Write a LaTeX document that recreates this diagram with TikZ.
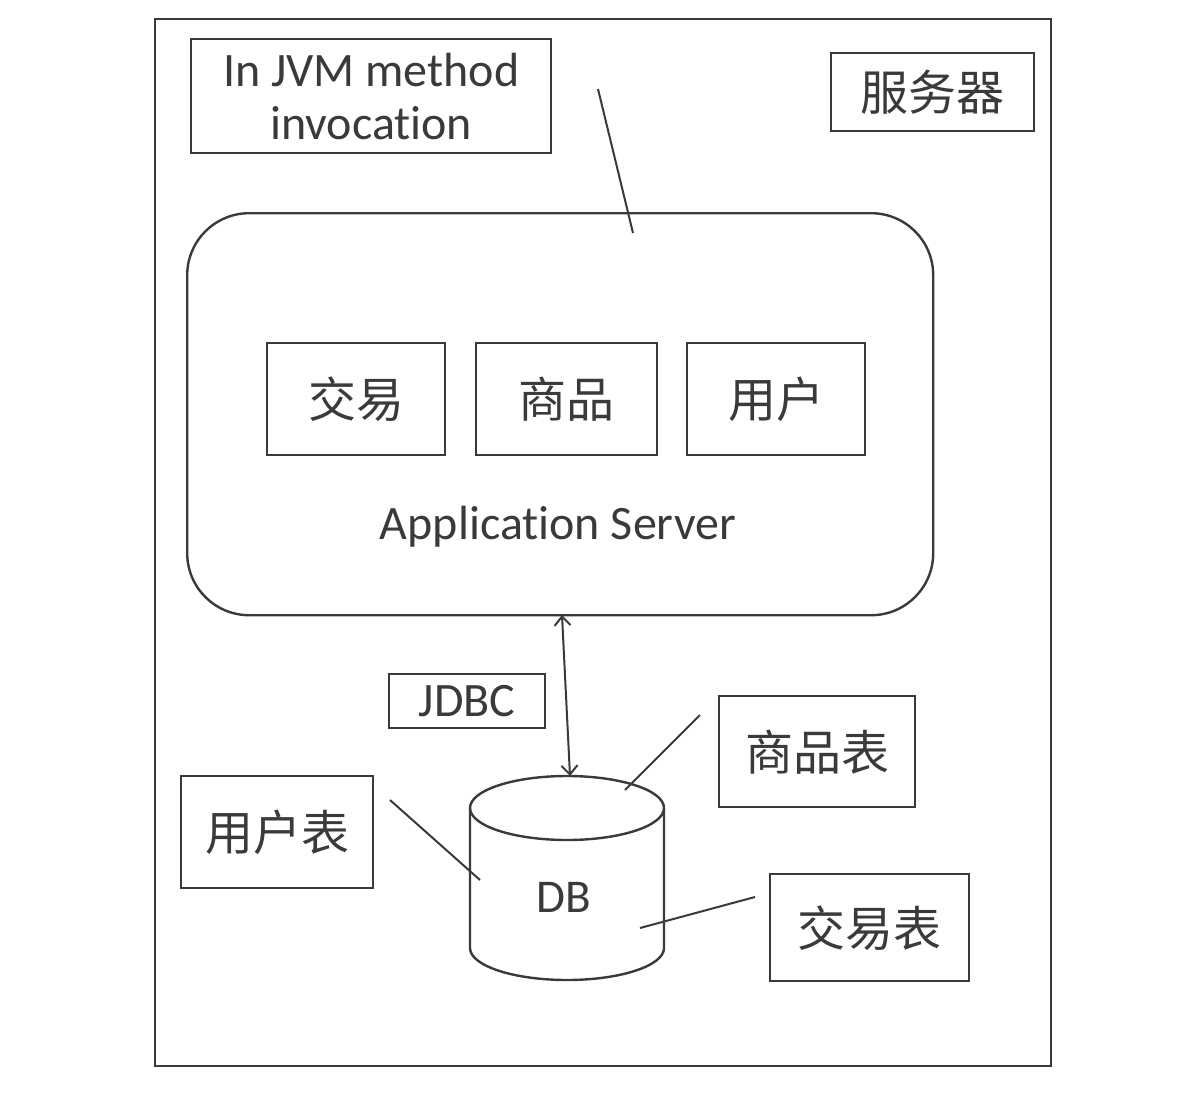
\documentclass[tikz,border=0pt]{standalone}
\usepackage{fontspec}
\setmainfont[Ligatures={NoCommon}]{Carlito}
\newfontfamily\cjk{Noto Sans CJK SC}
\usetikzlibrary{arrows.meta}
\definecolor{ink}{HTML}{3A3A3A}
\begin{document}
\begin{tikzpicture}[x=1pt,y=-1pt,
  every node/.style={text=ink},
  boxs/.style={draw=ink,line width=2.4pt,inner sep=0pt,anchor=north west},
  lbl/.style={font=\cjk\fontsize{48}{56}\selectfont},
  en/.style={font=\fontsize{48}{55}\selectfont},
  conn/.style={draw=ink,line width=2pt}]
\useasboundingbox (0,0) rectangle (1180,1092);
\fill[white] (0,0) rectangle (1180,1092);
% outer frame
\node[boxs,minimum width=896pt,minimum height=1047pt] (frame) at (154,18) {};
% top labels
\node[boxs,minimum width=360pt,minimum height=114pt,en,align=center] (jvm) at (190,38) {In JVM method\\[-2pt]invocation};
\node[boxs,minimum width=203pt,minimum height=78pt,lbl] (srv) at (830,52) {服务器};
% application server
\node[draw=ink,line width=2.4pt,rounded corners=62pt,minimum width=746pt,minimum height=402pt,anchor=north west] (app) at (186,212) {};
\node[en] (apptxt) at (558,527) {Application Server};
\node[boxs,minimum width=178pt,minimum height=112pt,lbl] (jy) at (266,342) {交易};
\node[boxs,minimum width=181pt,minimum height=112pt,lbl] (sp) at (475,342) {商品};
\node[boxs,minimum width=178pt,minimum height=112pt,lbl] (yh) at (686,342) {用户};
\coordinate (jvmend) at (598,89);
\coordinate (appin) at (633,233);
\draw[conn] (jvmend) -- (appin);
% DB cylinder
\draw[ink,line width=2.4pt] (470,808) -- (470,948) arc[start angle=180,end angle=0,x radius=97,y radius=32] -- (664,808);
\draw[ink,line width=2.4pt] (567,808) ellipse[x radius=97,y radius=32];
\node[en,font=\fontsize{47}{54}\selectfont] (db) at (564,897) {DB};
\coordinate (dbtop) at (570,776);
\coordinate (appbot) at (562,615);
\draw[conn,{Straight Barb[length=9pt,width=16pt]}-{Straight Barb[length=9pt,width=16pt]}] (appbot) -- (dbtop);
% JDBC
\node[boxs,minimum width=156pt,minimum height=54pt,en] (jdbc) at (388,673) {JDBC};
% tables
\node[boxs,minimum width=196pt,minimum height=111pt,lbl] (spb) at (718,695) {商品表};
\node[boxs,minimum width=192pt,minimum height=112pt,lbl] (yhb) at (180,775) {用户表};
\node[boxs,minimum width=199pt,minimum height=107pt,lbl] (jyb) at (769,873) {交易表};
\coordinate (spa) at (700,715);
\coordinate (spb2) at (625,790);
\coordinate (yha) at (390,800);
\coordinate (yhb2) at (480,880);
\coordinate (jya) at (755,897);
\coordinate (jyb2) at (640,928);
\draw[conn] (spa) -- (spb2);
\draw[conn] (yha) -- (yhb2);
\draw[conn] (jya) -- (jyb2);
\end{tikzpicture}
\end{document}
